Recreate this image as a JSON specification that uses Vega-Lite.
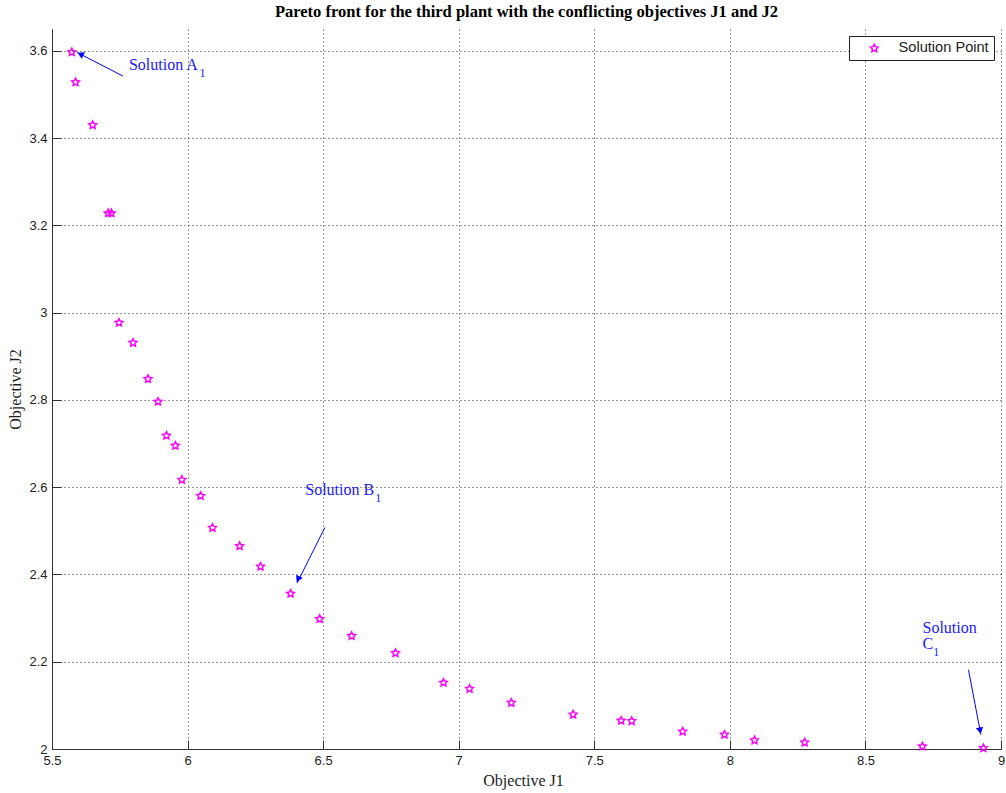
{
  "$schema": "https://vega.github.io/schema/vega-lite/v6.json",
  "width": 949,
  "height": 720,
  "autosize": {"type": "none"},
  "padding": {"left": 52, "top": 29, "right": 5, "bottom": 44},
  "background": "white",
  "title": {
    "text": "Pareto front for the third plant with the conflicting objectives J1 and J2",
    "font": "Liberation Serif",
    "fontSize": 16.5,
    "fontWeight": "bold",
    "color": "black",
    "anchor": "middle",
    "baseline": "alphabetic",
    "offset": 11,
    "dy": 15
  },
  "datasets": {
    "points": [
      {"x": 5.573, "y": 3.597, "series": "Solution Point"},
      {"x": 5.587, "y": 3.528, "series": "Solution Point"},
      {"x": 5.650, "y": 3.430, "series": "Solution Point"},
      {"x": 5.707, "y": 3.228, "series": "Solution Point"},
      {"x": 5.719, "y": 3.228, "series": "Solution Point"},
      {"x": 5.747, "y": 2.977, "series": "Solution Point"},
      {"x": 5.799, "y": 2.931, "series": "Solution Point"},
      {"x": 5.854, "y": 2.848, "series": "Solution Point"},
      {"x": 5.891, "y": 2.796, "series": "Solution Point"},
      {"x": 5.922, "y": 2.718, "series": "Solution Point"},
      {"x": 5.955, "y": 2.695, "series": "Solution Point"},
      {"x": 5.979, "y": 2.617, "series": "Solution Point"},
      {"x": 6.048, "y": 2.580, "series": "Solution Point"},
      {"x": 6.092, "y": 2.507, "series": "Solution Point"},
      {"x": 6.192, "y": 2.465, "series": "Solution Point"},
      {"x": 6.269, "y": 2.418, "series": "Solution Point"},
      {"x": 6.380, "y": 2.356, "series": "Solution Point"},
      {"x": 6.487, "y": 2.298, "series": "Solution Point"},
      {"x": 6.605, "y": 2.259, "series": "Solution Point"},
      {"x": 6.767, "y": 2.220, "series": "Solution Point"},
      {"x": 6.944, "y": 2.152, "series": "Solution Point"},
      {"x": 7.040, "y": 2.138, "series": "Solution Point"},
      {"x": 7.194, "y": 2.106, "series": "Solution Point"},
      {"x": 7.422, "y": 2.079, "series": "Solution Point"},
      {"x": 7.599, "y": 2.065, "series": "Solution Point"},
      {"x": 7.638, "y": 2.064, "series": "Solution Point"},
      {"x": 7.826, "y": 2.040, "series": "Solution Point"},
      {"x": 7.980, "y": 2.033, "series": "Solution Point"},
      {"x": 8.091, "y": 2.020, "series": "Solution Point"},
      {"x": 8.276, "y": 2.015, "series": "Solution Point"},
      {"x": 8.710, "y": 2.006, "series": "Solution Point"},
      {"x": 8.935, "y": 2.002, "series": "Solution Point"}
    ],
    "arrows": [
      {"name": "A", "x": 5.7617, "y": 3.5421, "x2": 5.5921, "y2": 3.5964},
      {"name": "B", "x": 6.5063, "y": 2.5076, "x2": 6.4039, "y2": 2.3802},
      {"name": "C", "x": 8.8800, "y": 2.1816, "x2": 8.9258, "y2": 2.0328}
    ],
    "headA": [{"x": 5.6050, "y": 3.5925}],
    "headB": [{"x": 6.4075, "y": 2.3890}],
    "headC": [{"x": 8.9230, "y": 2.0420}],
    "labels": [
      {"x": 5.7838, "y": 3.5559, "text": "Solution A"},
      {"x": 6.4341, "y": 2.5825, "text": "Solution B"},
      {"x": 8.7105, "y": 2.2657, "text": "Solution"},
      {"x": 8.7105, "y": 2.2290, "text": "C"}
    ],
    "subs": [
      {"x": 6.0443, "y": 3.5398, "text": "1"},
      {"x": 6.6920, "y": 2.5657, "text": "1"},
      {"x": 8.7498, "y": 2.2137, "text": "1"}
    ]
  },
  "encoding": {
    "x": {
      "field": "x",
      "type": "quantitative",
      "scale": {"domain": [5.5, 9], "nice": false, "zero": false},
      "axis": {
        "title": "Objective J1",
        "values": [5.5, 6, 6.5, 7, 7.5, 8, 8.5, 9],
        "format": "~g",
        "grid": true,
        "gridDash": [1, 3],
        "gridColor": "#333",
        "gridOpacity": 1,
        "domainColor": "#333",
        "tickColor": "#333",
        "tickSize": -9,
        "labelPadding": 14,
        "labelFont": "Liberation Sans",
        "labelFontSize": 13,
        "labelColor": "#222",
        "labelFlush": false,
        "labelOverlap": false,
        "titleFont": "Liberation Serif",
        "titleFontSize": 16,
        "titleFontWeight": "normal",
        "titleColor": "#222",
        "titleX": 471,
        "titleY": 23,
        "titleBaseline": "top",
        "titleAnchor": null
      }
    },
    "y": {
      "field": "y",
      "type": "quantitative",
      "scale": {"domain": [2, 3.65], "nice": false, "zero": false},
      "axis": {
        "title": "Objective J2",
        "values": [2, 2.2, 2.4, 2.6, 2.8, 3, 3.2, 3.4, 3.6],
        "format": "~g",
        "grid": true,
        "gridDash": [1, 3],
        "gridColor": "#333",
        "gridOpacity": 1,
        "domainColor": "#333",
        "tickColor": "#333",
        "tickSize": -9,
        "labelPadding": 14,
        "labelFont": "Liberation Sans",
        "labelFontSize": 13,
        "labelColor": "#222",
        "labelFlush": false,
        "labelOverlap": false,
        "titleFont": "Liberation Serif",
        "titleFontSize": 16,
        "titleFontWeight": "normal",
        "titleColor": "#222",
        "titleX": -29,
        "titleY": 360,
        "titleAngle": -90,
        "titleBaseline": "bottom",
        "titleAnchor": null
      }
    }
  },
  "layer": [
    {
      "data": {"name": "points"},
      "mark": {"type": "point", "filled": false, "strokeWidth": 1.5, "size": 65, "opacity": 1},
      "encoding": {
        "color": {
          "field": "series",
          "type": "nominal",
          "scale": {"range": ["#ff00ff"]},
          "legend": {"title": null}
        },
        "shape": {
          "field": "series",
          "type": "nominal",
          "scale": {"range": ["M0,-1L0.294,-0.405L0.951,-0.309L0.476,0.155L0.588,0.809L0,0.5L-0.588,0.809L-0.476,0.155L-0.951,-0.309L-0.294,-0.405Z"]},
          "legend": {"title": null}
        }
      }
    },
    {
      "data": {"name": "arrows"},
      "mark": {"type": "rule", "color": "#0000ff", "strokeWidth": 1},
      "encoding": {
        "x2": {"field": "x2"},
        "y2": {"field": "y2"}
      }
    },
    {
      "data": {"name": "headA"},
      "mark": {"type": "point", "shape": "triangle-up", "filled": true, "color": "#0000ff", "size": 55, "angle": 297, "opacity": 1}
    },
    {
      "data": {"name": "headB"},
      "mark": {"type": "point", "shape": "triangle-up", "filled": true, "color": "#0000ff", "size": 55, "angle": 207, "opacity": 1}
    },
    {
      "data": {"name": "headC"},
      "mark": {"type": "point", "shape": "triangle-up", "filled": true, "color": "#0000ff", "size": 55, "angle": 169, "opacity": 1}
    },
    {
      "data": {"name": "labels"},
      "mark": {"type": "text", "font": "Liberation Serif", "fontSize": 16, "color": "#2020ff", "align": "left", "baseline": "alphabetic"},
      "encoding": {"text": {"field": "text"}}
    },
    {
      "data": {"name": "subs"},
      "mark": {"type": "text", "font": "Liberation Serif", "fontSize": 12, "color": "#2020ff", "align": "left", "baseline": "alphabetic"},
      "encoding": {"text": {"field": "text"}}
    }
  ],
  "config": {
    "view": {"stroke": null},
    "legend": {
      "orient": "top-right",
      "offset": 7,
      "labelFont": "Liberation Sans",
      "labelFontSize": 14.6,
      "labelColor": "#222",
      "strokeColor": "#222",
      "fillColor": "white",
      "padding": 5,
      "cornerRadius": 0,
      "symbolOffset": 13,
      "labelOffset": 17,
      "symbolSize": 65,
      "symbolStrokeWidth": 1.5
    }
  }
}
